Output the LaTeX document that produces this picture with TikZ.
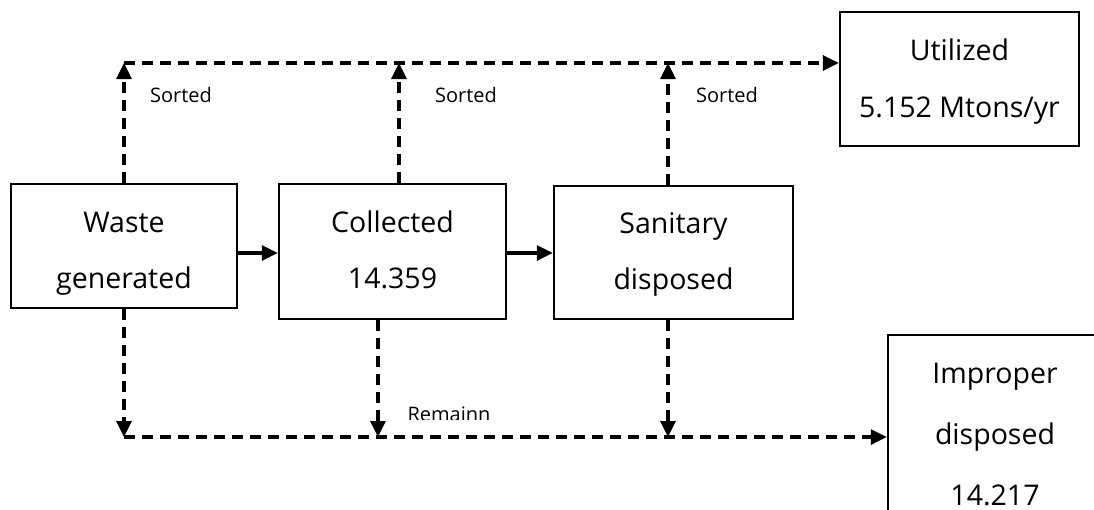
\documentclass[tikz,border=0pt]{standalone}
\usepackage{fontspec}
\setmainfont{Open Sans}
\usetikzlibrary{arrows.meta}
% fixed first-line height and last-line depth, so that the lines of a box
% sit at known baselines whatever letters they hold
\newcommand{\topline}[1]{\rule{0pt}{#1}}
\newcommand{\botline}{\rule[-8pt]{0pt}{8pt}}
\begin{document}
\begin{tikzpicture}[x=1pt,y=1pt,
  box/.style={draw, line width=2.4pt, inner sep=0pt, align=center,
    font=\fontsize{28.5}{56}\selectfont},
  flow/.style={line width=3.2pt, -{Triangle[length=16pt,width=15pt]}},
  dflow/.style={flow, dash pattern=on 11pt off 7pt},
  lbl/.style={font=\fontsize{20}{22}\selectfont, inner sep=0pt}]
\useasboundingbox (0,0) rectangle (1094,-509);

% process boxes
\node[box, minimum width=226pt, minimum height=124pt] (waste) at (124,-246)
  {\topline{36pt}Waste\\generated\botline};
\node[box, minimum width=227pt, minimum height=135pt] (coll) at (392.5,-251.5)
  {\topline{25pt}Collected\\14.359\botline};
\node[box, minimum width=239pt, minimum height=133pt] (sani) at (673.5,-252.5)
  {\topline{25pt}Sanitary\\disposed\botline};
\node[box, minimum width=239pt, minimum height=134pt,
  font=\fontsize{28.5}{57}\selectfont] (util) at (959.5,-79)
  {\topline{27pt}Utilized\\5.152 Mtons/yr\botline};
\node[box, minimum width=214pt, minimum height=196pt,
  font=\fontsize{28.5}{61}\selectfont] (impr) at (995,-433)
  {\topline{23pt}Improper\\disposed\\14.217};

% junction points on the collecting lines
\coordinate (wu) at (124,-63);
\coordinate (cu) at (399,-63);
\coordinate (su) at (668,-63);
\coordinate (wd) at (124,-437);
\coordinate (cd) at (378,-437);
\coordinate (sd) at (668,-437);
\coordinate (mid) at (0,-253);

% main flow
\draw[flow] (waste.east |- mid) -- (coll.west |- mid);
\draw[flow] (coll.east |- mid) -- (sani.west |- mid);

% sorted fractions
\draw[dflow] (waste.north) -- (wu);
\draw[dflow] (coll.north -| cu) -- (cu);
\draw[dflow] (sani.north -| su) -- (su);
\draw[dflow] (wu) -- (util.west |- wu);

% remaining fractions
\draw[dflow] (waste.south) -- (wd);
\draw[dflow] (coll.south -| cd) -- (cd);
\draw[dflow] (sani.south -| sd) -- (sd);
\draw[dflow] (wd) -- (impr.west |- wd);

% labels
\node[lbl] (s1) at (181,-95) {Sorted};
\node[lbl] (s2) at (466,-95) {Sorted};
\node[lbl] (s3) at (727,-95) {Sorted};
\begin{scope}
  \clip (380,-395) rectangle (520,-419.5);
  \node[lbl, anchor=base] (rem) at (449,-421) {Remainn};
\end{scope}
\end{tikzpicture}
\end{document}
